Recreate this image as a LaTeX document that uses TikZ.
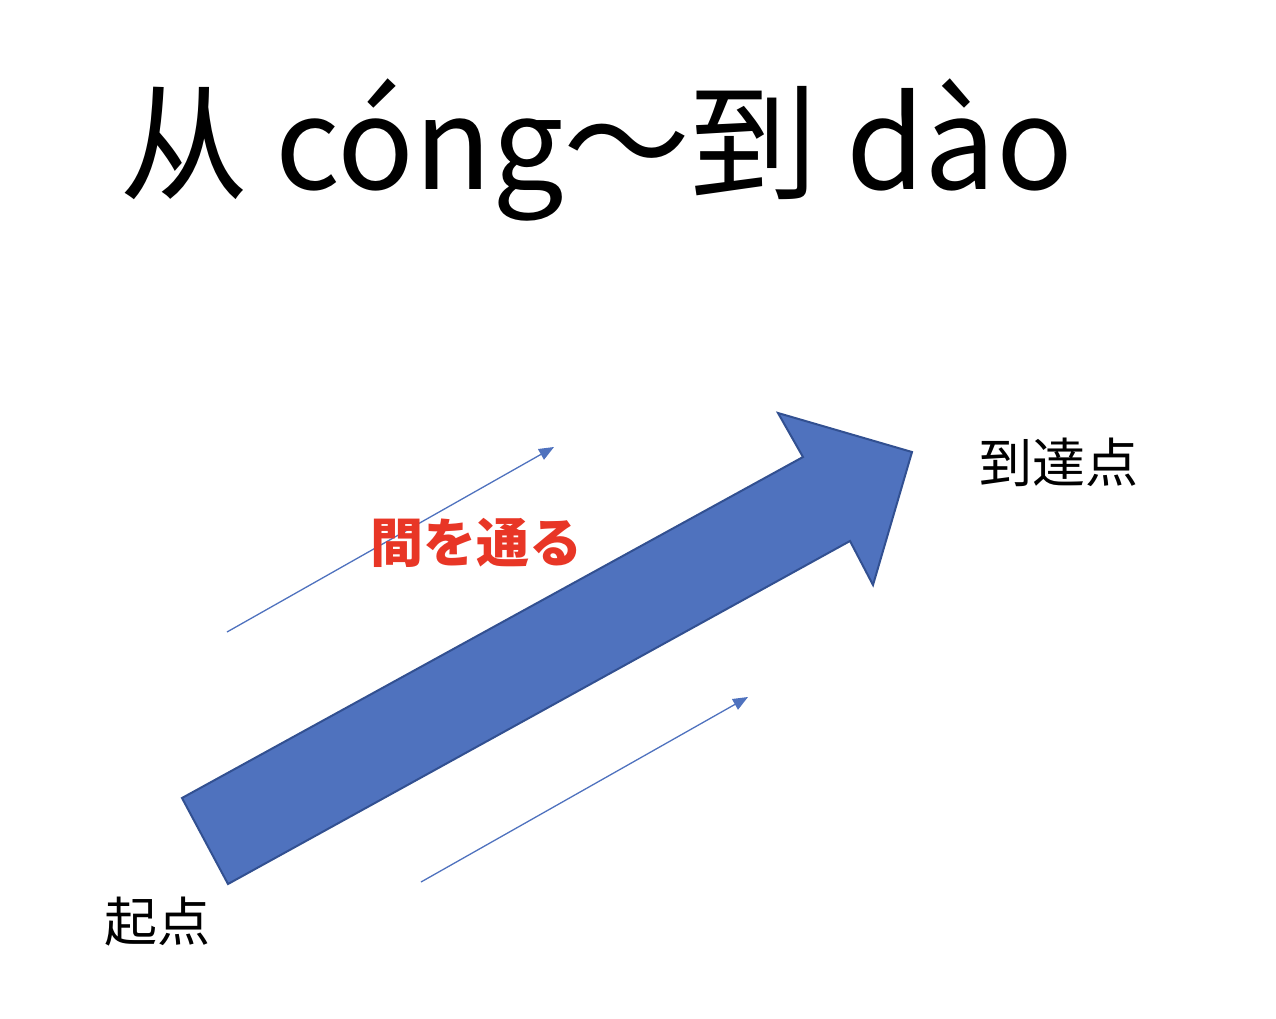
\documentclass[tikz,border=0pt]{standalone}
\usepackage{fontspec}
\setmainfont{Noto Sans CJK JP}
\newfontfamily\cjk{Noto Sans CJK JP}
\usetikzlibrary{arrows.meta}
\definecolor{arrowblue}{RGB}{79,114,190}
\definecolor{arrowedge}{RGB}{50,80,145}
\definecolor{textred}{RGB}{232,54,38}
\tikzset{
  thin arrow/.style={draw=arrowblue, line width=1.3pt, -{Triangle[length=15pt,width=12pt]}},
  label/.style={font=\cjk\fontsize{53}{58}\selectfont, inner sep=0pt},
}
\begin{document}
\begin{tikzpicture}[x=1pt,y=-1pt]
\useasboundingbox (0,0) rectangle (1276,1018);
% title
\node[inner sep=0pt, font=\cjk\fontsize{127}{140}\selectfont] (title) at (597,150) {从 cóng～到 dào};
% thin arrows
\coordinate (ua) at (227,632); \coordinate (ub) at (554,447);
\coordinate (la) at (421,882); \coordinate (lb) at (748,697);
\draw[thin arrow] (ua) -- (ub);
\draw[thin arrow] (la) -- (lb);
% big arrow
\draw[fill=arrowblue, draw=arrowedge, line width=2pt, line join=miter]
  (182,798) -- (803,457) -- (778,413) -- (912,452) -- (873,585) -- (850,541) -- (228,884) -- cycle;
% labels
\node[label] (goal) at (1059,462) {到達点};
\node[label] (start) at (157,922) {起点};
\node[label, text=textred, font=\cjk\bfseries\fontsize{53}{58}\selectfont] (mid) at (476,543) {間を通る};
\end{tikzpicture}
\end{document}
